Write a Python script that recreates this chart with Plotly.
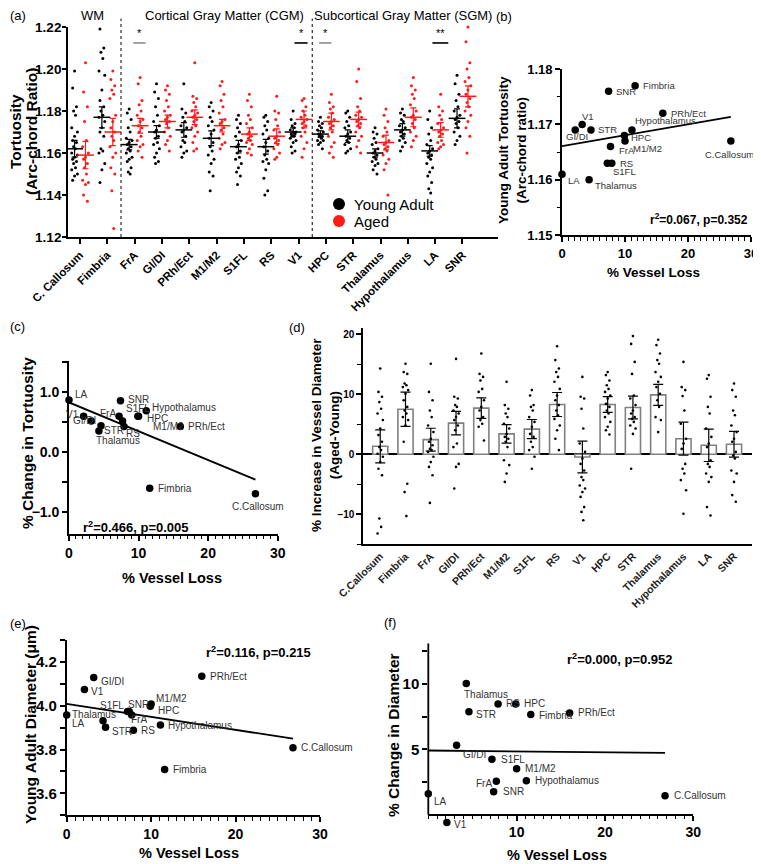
import numpy as np
import plotly.graph_objects as go

W, H = 761, 864
FONT = "Arial, Liberation Sans, sans-serif"
PAGE_OFFSET = 8  # default body margin of the html page, in px

# ---------------- DATA ----------------
regions = ["C.Callosum", "Fimbria", "FrA", "GI/DI", "PRh/Ect", "M1/M2", "S1FL", "RS",
           "V1", "HPC", "STR", "Thalamus", "Hypothalamus", "LA", "SNR"]
tick_labels_a = ["C. Callosum", "Fimbria", "FrA", "GI/DI", "PRh/Ect", "M1/M2", "S1FL", "RS",
                 "V1", "HPC", "STR", "Thalamus", "Hypothalamus", "LA", "SNR"]
group_titles = ["WM", "Cortical Gray Matter (CGM)", "Subcortical Gray Matter (SGM)"]
legend_names = ["Young Adult", "Aged"]

# (a) tortuosity per vessel, young vs aged
young_tort_dots = [
    [1.199, 1.191, 1.182, 1.180, 1.178, 1.172, 1.170, 1.168, 1.166, 1.165, 1.163, 1.162, 1.160, 1.159, 1.158, 1.157, 1.156, 1.155, 1.153, 1.152, 1.150, 1.149, 1.147],
    [1.221, 1.219, 1.210, 1.208, 1.205, 1.199, 1.197, 1.190, 1.185, 1.182, 1.180, 1.178, 1.177, 1.175, 1.172, 1.170, 1.168, 1.162, 1.161, 1.160, 1.155, 1.152, 1.146],
    [1.181, 1.179, 1.176, 1.172, 1.170, 1.167, 1.166, 1.165, 1.164, 1.163, 1.162, 1.161, 1.160, 1.158, 1.157, 1.156, 1.153, 1.151, 1.150],
    [1.193, 1.189, 1.186, 1.182, 1.178, 1.175, 1.173, 1.171, 1.170, 1.168, 1.167, 1.165, 1.164, 1.162, 1.160, 1.158, 1.156, 1.155],
    [1.193, 1.181, 1.179, 1.177, 1.175, 1.173, 1.172, 1.171, 1.170, 1.168, 1.166, 1.165, 1.163, 1.161, 1.160, 1.158],
    [1.184, 1.182, 1.180, 1.177, 1.175, 1.173, 1.171, 1.169, 1.167, 1.165, 1.163, 1.161, 1.159, 1.157, 1.155, 1.151, 1.149, 1.142],
    [1.178, 1.176, 1.174, 1.172, 1.170, 1.168, 1.166, 1.164, 1.163, 1.161, 1.160, 1.158, 1.157, 1.155, 1.153, 1.151, 1.149, 1.145],
    [1.178, 1.177, 1.175, 1.173, 1.171, 1.169, 1.167, 1.165, 1.163, 1.161, 1.159, 1.157, 1.156, 1.155, 1.152, 1.148, 1.142, 1.140],
    [1.180, 1.176, 1.174, 1.173, 1.172, 1.171, 1.170, 1.170, 1.169, 1.169, 1.168, 1.168, 1.167, 1.166, 1.165, 1.163, 1.161, 1.160],
    [1.177, 1.175, 1.174, 1.173, 1.172, 1.171, 1.170, 1.169, 1.169, 1.168, 1.168, 1.167, 1.166, 1.166, 1.165, 1.164, 1.162],
    [1.180, 1.179, 1.177, 1.175, 1.173, 1.172, 1.170, 1.169, 1.168, 1.167, 1.166, 1.165, 1.164, 1.162, 1.161, 1.160],
    [1.172, 1.170, 1.169, 1.167, 1.165, 1.164, 1.162, 1.161, 1.160, 1.159, 1.158, 1.157, 1.156, 1.155, 1.154, 1.152, 1.150],
    [1.181, 1.179, 1.178, 1.176, 1.175, 1.173, 1.172, 1.171, 1.170, 1.169, 1.168, 1.167, 1.166, 1.165, 1.163, 1.161],
    [1.180, 1.176, 1.172, 1.169, 1.166, 1.164, 1.162, 1.161, 1.160, 1.159, 1.158, 1.157, 1.155, 1.153, 1.151, 1.149, 1.146, 1.143, 1.141],
    [1.197, 1.193, 1.188, 1.185, 1.182, 1.180, 1.178, 1.177, 1.176, 1.175, 1.174, 1.172, 1.170, 1.168, 1.166, 1.164],
]
aged_tort_dots = [
    [1.203, 1.189, 1.182, 1.175, 1.166, 1.163, 1.160, 1.158, 1.157, 1.155, 1.153, 1.150, 1.147, 1.146, 1.145, 1.140, 1.137],
    [1.199, 1.195, 1.192, 1.190, 1.188, 1.186, 1.178, 1.175, 1.172, 1.170, 1.168, 1.166, 1.163, 1.160, 1.158, 1.153, 1.150, 1.142, 1.124],
    [1.196, 1.193, 1.185, 1.183, 1.180, 1.178, 1.176, 1.175, 1.173, 1.172, 1.170, 1.168, 1.166, 1.164, 1.163, 1.161, 1.158],
    [1.192, 1.190, 1.188, 1.185, 1.182, 1.180, 1.178, 1.177, 1.176, 1.175, 1.174, 1.172, 1.170, 1.168, 1.166, 1.164, 1.161],
    [1.203, 1.187, 1.186, 1.184, 1.182, 1.180, 1.179, 1.178, 1.177, 1.176, 1.175, 1.173, 1.172, 1.170, 1.168, 1.165, 1.162, 1.161],
    [1.194, 1.192, 1.188, 1.185, 1.182, 1.179, 1.176, 1.175, 1.174, 1.172, 1.171, 1.169, 1.167, 1.165, 1.164, 1.162],
    [1.188, 1.185, 1.182, 1.178, 1.176, 1.174, 1.172, 1.170, 1.169, 1.168, 1.167, 1.166, 1.165, 1.164, 1.162, 1.160, 1.159],
    [1.187, 1.180, 1.179, 1.176, 1.173, 1.171, 1.170, 1.168, 1.167, 1.166, 1.165, 1.164, 1.162, 1.160, 1.158, 1.157],
    [1.186, 1.185, 1.182, 1.180, 1.178, 1.177, 1.176, 1.175, 1.174, 1.173, 1.172, 1.170, 1.168, 1.165, 1.162, 1.158],
    [1.188, 1.184, 1.182, 1.181, 1.179, 1.177, 1.176, 1.175, 1.174, 1.173, 1.172, 1.170, 1.168, 1.165, 1.163, 1.160, 1.158],
    [1.200, 1.194, 1.186, 1.182, 1.180, 1.178, 1.177, 1.176, 1.175, 1.174, 1.173, 1.172, 1.170, 1.168, 1.166, 1.163, 1.160],
    [1.181, 1.178, 1.175, 1.172, 1.170, 1.168, 1.166, 1.165, 1.164, 1.163, 1.162, 1.161, 1.159, 1.157, 1.155, 1.152, 1.140],
    [1.196, 1.192, 1.190, 1.188, 1.186, 1.183, 1.180, 1.178, 1.177, 1.176, 1.174, 1.172, 1.170, 1.168, 1.166, 1.163],
    [1.188, 1.182, 1.180, 1.178, 1.176, 1.174, 1.172, 1.171, 1.170, 1.169, 1.168, 1.166, 1.165, 1.164, 1.163, 1.162],
    [1.220, 1.213, 1.203, 1.200, 1.196, 1.194, 1.192, 1.190, 1.188, 1.186, 1.184, 1.182, 1.180, 1.178, 1.175, 1.172, 1.168, 1.160],
]
young_tort_mean = [1.162, 1.177, 1.164, 1.170, 1.171, 1.167, 1.163, 1.163, 1.170, 1.169, 1.168, 1.160, 1.171, 1.161, 1.1765]
young_tort_err = [0.004, 0.005, 0.0025, 0.003, 0.0035, 0.0035, 0.003, 0.0035, 0.002, 0.0015, 0.003, 0.002, 0.003, 0.0025, 0.0045]
aged_tort_mean = [1.159, 1.170, 1.173, 1.175, 1.177, 1.173, 1.169, 1.168, 1.176, 1.175, 1.176, 1.165, 1.177, 1.171, 1.187]
aged_tort_err = [0.0065, 0.0065, 0.0035, 0.003, 0.0035, 0.003, 0.003, 0.0035, 0.004, 0.004, 0.0035, 0.0035, 0.0045, 0.0035, 0.005]
sig_regions = ["FrA", "V1", "HPC", "LA"]
sig_marks = ["*", "*", "*", "**"]

# shared x: % vessel loss per region
vessel_loss = [26.8, 11.6, 7.7, 3.2, 16.0, 10.0, 7.2, 7.9, 2.1, 9.9, 4.6, 4.3, 11.1, 0.0, 7.4]
# (b) young adult tortuosity
young_tortuosity = [1.167, 1.177, 1.166, 1.170, 1.172, 1.167, 1.163, 1.163, 1.169, 1.168, 1.169, 1.160, 1.169, 1.161, 1.176]
# (c) % change in tortuosity
change_tortuosity = [-0.69, -0.60, 0.52, 0.52, 0.43, 0.60, 0.60, 0.43, 0.60, 0.60, 0.44, 0.355, 0.69, 0.87, 0.86]
# (d) % increase in vessel diameter
diam_inc_mean = [1.33, 7.5, 2.44, 5.2, 7.7, 3.4, 4.2, 8.3, -0.44, 8.3, 7.8, 9.9, 2.6, 1.5, 1.67]
diam_inc_err = [2.75, 2.85, 1.9, 1.95, 1.7, 1.55, 1.6, 2.0, 2.65, 1.3, 1.9, 1.75, 2.75, 2.7, 2.15]
diam_inc_dots = [
    [14.3, 10.4, 9.6, 8.7, 7.6, 6.8, 5.7, 4.3, 3.2, 2.1, 1.2, 0.7, 0.1, -0.4, -1.3, -2.4, -3.5, -10.7, -12.1, -13.2],
    [15.1, 13.7, 13.4, 11.8, 11.5, 11.2, 10.7, 10.1, 9.0, 7.9, 7.3, 6.8, 6.2, 5.7, 4.8, 2.1, -4.9, -6.3, -10.3],
    [15.1, 10.4, 9.0, 7.3, 6.2, 4.8, 3.7, 2.6, 2.1, 1.5, 0.9, 0.7, 0.4, -0.4, -1.3, -2.1, -3.5, -8.1],
    [15.9, 9.6, 9.3, 8.2, 7.9, 7.3, 6.8, 6.2, 5.7, 4.8, 4.0, 1.8, 1.2, -1.6, -2.1, -5.7],
    [16.8, 13.4, 12.9, 12.3, 10.9, 10.4, 9.0, 7.9, 7.3, 6.2, 5.7, 5.1, 4.6, 2.3],
    [12.1, 8.2, 7.6, 6.8, 6.2, 5.1, 4.3, 3.4, 2.9, 2.6, 2.1, 1.2, -1.0, -1.8, -3.2, -4.6],
    [10.7, 9.8, 8.2, 7.9, 7.3, 6.2, 5.4, 4.6, 3.4, 2.9, 2.1, 1.2, 0.7, -0.4, -2.4],
    [18.0, 15.7, 14.3, 13.7, 12.9, 12.1, 10.9, 9.8, 9.0, 8.2, 7.3, 6.5, 5.9, 4.8, 4.0, 2.6, 0.7],
    [12.9, 9.6, 9.3, 7.6, 4.3, 1.8, 0.4, -0.7, -1.6, -2.7, -3.8, -4.3, -5.2, -5.7, -6.3, -7.1, -8.8, -9.6, -11.0],
    [13.7, 13.2, 12.3, 11.5, 10.9, 10.4, 9.8, 9.3, 8.4, 7.9, 7.3, 6.8, 6.2, 5.4, 4.6, 4.0, 3.3],
    [19.7, 18.4, 15.4, 13.4, 9.8, 9.3, 8.2, 7.3, 6.8, 6.2, 5.9, 5.4, 4.8, 4.3, 3.4, -2.4],
    [19.1, 18.2, 16.8, 15.7, 15.1, 13.7, 12.9, 12.1, 11.2, 10.1, 9.0, 7.9, 6.2, 5.7, 3.7],
    [15.4, 11.2, 10.7, 9.7, 7.3, 5.1, 2.6, 1.8, 0.9, -1.6, -2.4, -3.2, -4.3, -6.0, -9.9],
    [13.2, 12.6, 9.6, 7.9, 6.8, 4.3, 2.9, 1.8, 1.2, -1.0, -1.6, -2.1, -3.2, -3.8, -4.6, -8.8, -10.2],
    [11.8, 10.7, 9.6, 7.3, 6.5, 4.8, 3.7, 2.6, 2.1, 0.4, -0.2, -0.7, -2.7, -3.2, -4.6, -6.8, -7.9],
]
diam_sig = ["", "***", "", "**", "***", "", "*", "***", "", "****", "****", "****", "", "", ""]
# (e) young adult diameter (um)
young_diameter = [3.808, 3.709, 3.958, 4.129, 4.135, 4.008, 3.974, 3.888, 4.074, 3.998, 3.902, 3.932, 3.912, 3.958, 3.974]
# (f) % change in diameter
change_diameter = [1.45, 7.65, 2.55, 5.31, 7.78, 3.52, 4.23, 8.47, -0.59, 8.47, 7.86, 10.03, 2.6, 1.61, 1.76]
stats_text = {"b": "r<sup>2</sup>=0.067, p=0.352", "c": "r<sup>2</sup>=0.466, p=0.005",
              "e": "r<sup>2</sup>=0.116, p=0.215", "f": "r<sup>2</sup>=0.000, p=0.952"}

# ---------------- helpers ----------------
def px(x):
    return (x - PAGE_OFFSET) / W


def py(y):
    return 1 - (y - PAGE_OFFSET) / H


def jitter(n, spread):
    pattern = [0, -1, 1, -0.5, 0.5, -1.5, 1.5]
    return [pattern[k % len(pattern)] * spread for k in range(n)]


def axis(domain, anchor, **kw):
    d = dict(domain=domain, anchor=anchor, showline=True, linecolor="black", linewidth=1.8,
             ticks="outside", ticklen=5, tickwidth=1.5, tickcolor="black", showgrid=False,
             zeroline=False, automargin=False,
             tickfont=dict(family=FONT, size=13, color="black", weight=700))
    d.update(kw)
    return d


fig = go.Figure()
annotations = []
shapes = []


def ptext(x, y, text, size, angle=0, bold=True, anchor="center", color="black"):
    annotations.append(dict(x=px(x), y=py(y), xref="paper", yref="paper", text=text, showarrow=False,
                            textangle=angle, xanchor=anchor, yanchor="middle",
                            font=dict(family=FONT, size=size, color=color, weight=700 if bold else 400)))


# ---------------- (a) ----------------
xs_y, ys_y, xs_a, ys_a = [], [], [], []
for i in range(len(regions)):
    jy = jitter(len(young_tort_dots[i]), 0.07)
    ja = jitter(len(aged_tort_dots[i]), 0.07)
    xs_y += [i - 0.2 + j for j in jy]
    ys_y += young_tort_dots[i]
    xs_a += [i + 0.2 + j for j in ja]
    ys_a += aged_tort_dots[i]
RED = "#ff1a1a"
fig.add_trace(go.Scatter(x=xs_y, y=ys_y, mode="markers", marker=dict(size=3, color="black"),
                         xaxis="x", yaxis="y", showlegend=False, cliponaxis=False))
fig.add_trace(go.Scatter(x=xs_a, y=ys_a, mode="markers", marker=dict(size=3, color=RED),
                         xaxis="x", yaxis="y", showlegend=False, cliponaxis=False))
idx = list(range(len(regions)))
fig.add_trace(go.Scatter(x=[i - 0.2 for i in idx], y=young_tort_mean, mode="markers",
                         marker=dict(symbol="line-ew-open", size=12, color="black",
                                     line=dict(color="black", width=1.5)),
                         error_y=dict(type="data", array=young_tort_err, color="black", thickness=1.2, width=3),
                         xaxis="x", yaxis="y", showlegend=False))
fig.add_trace(go.Scatter(x=[i + 0.2 for i in idx], y=aged_tort_mean, mode="markers",
                         marker=dict(symbol="line-ew-open", size=12, color=RED,
                                     line=dict(color=RED, width=1.5)),
                         error_y=dict(type="data", array=aged_tort_err, color=RED, thickness=1.2, width=3),
                         xaxis="x", yaxis="y", showlegend=False))

# legend drawn as symbols + text
for name, col, cy in zip(legend_names, ["black", RED], [204, 221]):
    shapes.append(dict(type="circle", xref="paper", yref="paper", x0=px(333), x1=px(345),
                       y0=py(cy + 6), y1=py(cy - 6), fillcolor=col, line=dict(width=0)))
    ptext(352, cy, name, 15, bold=False, anchor="left")

for xb in [1.5, 8.5]:
    shapes.append(dict(type="line", xref="x", yref="y domain", x0=xb, x1=xb, y0=0, y1=1.04,
                       line=dict(color="black", width=1, dash="dot")))
sig_span = {"FrA": (-0.05, 0.4, "#8c8c8c"), "V1": (-0.15, 0.33, "black"),
            "HPC": (-0.25, 0.2, "#8c8c8c"), "LA": (-0.1, 0.48, "black")}
for r, m in zip(sig_regions, sig_marks):
    i = regions.index(r)
    a0, a1, col = sig_span[r]
    shapes.append(dict(type="line", xref="x", yref="y", x0=i + a0, x1=i + a1, y0=1.2124, y1=1.2124,
                       line=dict(color=col, width=1.6)))
    annotations.append(dict(x=i + (a0 + a1) / 2, y=1.2124, xref="x", yref="y", text=m, showarrow=False,
                            xanchor="center", yanchor="bottom", yshift=2,
                            font=dict(family=FONT, size=11, color="black")))
for t, cx in zip(group_titles, [92, 224, 403]):
    ptext(cx, 15, t, 13, bold=False, anchor="center")

# ---------------- scatter panels b, c, e, f ----------------
def scatter_panel(xa, ya, yvals, offsets, label_size):
    fig.add_trace(go.Scatter(x=vessel_loss, y=yvals, mode="markers", marker=dict(size=7.5, color="black"),
                             xaxis=xa, yaxis=ya, showlegend=False, cliponaxis=False))
    slope, inter = np.polyfit(vessel_loss, yvals, 1)
    xl = [0, max(vessel_loss)]
    fig.add_trace(go.Scatter(x=xl, y=[inter + slope * v for v in xl], mode="lines",
                             line=dict(color="black", width=1.8), xaxis=xa, yaxis=ya,
                             showlegend=False, cliponaxis=False))
    for r, xv, yv, (dx, dy, anc) in zip(regions, vessel_loss, yvals, offsets):
        annotations.append(dict(x=xv, y=yv, xref=xa, yref=ya, text=r, showarrow=False,
                                xanchor=anc, yanchor="middle", xshift=dx, yshift=-dy,
                                font=dict(family=FONT, size=label_size, color="#333333")))


# label offsets (dx, dy px, anchor) in region order
off_b = [(-28, 13, "left"), (6, 0, "left"), (6.5, 4, "left"), (-18, 12, "left"), (6, 0, "left"),
         (5.5, 7, "left"), (4, 8.5, "left"), (6, 0, "left"), (4.5, -13, "left"), (4.5, 2, "left"),
         (5.5, 0, "left"), (4, 6, "left"), (1, -9, "left"), (3.5, 6.5, "left"), (5, 0, "left")]
off_c = [(2.5, 13, "center"), (6.5, 0, "left"), (-4.3, -7.5, "right"), (6.4, -1, "right"), (6, 0, "left"),
         (12, 10, "left"), (5, -8, "left"), (0, 6.6, "left"), (-3, -1.4, "right"), (7, 2, "left"),
         (1.3, 4.6, "left"), (-5, 9.6, "left"), (3.5, -3, "left"), (4, -6, "left"), (6, -1.4, "left")]
off_e = [(6, 0, "left"), (6, 0, "left"), (-2.7, 5, "left"), (5.3, 4, "left"), (6, 0, "left"),
         (3, -5, "left"), (-1.5, -6.4, "right"), (5.6, 0, "left"), (4.6, 1.5, "left"), (5.4, 4, "left"),
         (4, 4.5, "left"), (-33, -6.6, "left"), (6, 0, "left"), (3.3, 8.4, "left"), (-3.5, -7.4, "left")]
off_f = [(7, 0, "left"), (6.5, 0.6, "left"), (-2.6, 2, "right"), (4, 9.4, "left"), (6.7, 0, "left"),
         (6.4, 0, "left"), (7, 0, "left"), (6, 0, "left"), (5.4, 2, "left"), (6.5, 0, "left"),
         (5, 3, "left"), (-4.6, 10.7, "left"), (6.7, 0, "left"), (3.4, 8.3, "left"), (7, 0, "left")]

scatter_panel("x2", "y2", young_tortuosity, off_b, 9.5)
scatter_panel("x3", "y3", change_tortuosity, off_c, 10)
scatter_panel("x5", "y5", young_diameter, off_e, 10)
scatter_panel("x6", "y6", change_diameter, off_f, 10)

# ---------------- (d) ----------------
fig.add_trace(go.Bar(x=idx, y=diam_inc_mean, width=0.6, xaxis="x4", yaxis="y4", showlegend=False,
                     marker=dict(color="white", line=dict(color="#808080", width=1.6)),
                     error_y=dict(type="data", array=diam_inc_err, color="black", thickness=1.2, width=5)))
dx_d, dy_d = [], []
for i in idx:
    j = jitter(len(diam_inc_dots[i]), 0.07)
    dx_d += [i + v for v in j]
    dy_d += diam_inc_dots[i]
fig.add_trace(go.Scatter(x=dx_d, y=dy_d, mode="markers", marker=dict(size=2.6, color="black"),
                         xaxis="x4", yaxis="y4", showlegend=False))
for i, s in enumerate(diam_sig):
    if s:
        annotations.append(dict(x=i, y=21.2, xref="x4", yref="y4", text=s, showarrow=False,
                                xanchor="center", font=dict(family=FONT, size=9, color="#555555")))

# ---------------- axes ----------------
lay = dict(width=W, height=H, margin=dict(l=0, r=0, t=0, b=0), autosize=False, showlegend=False,
           paper_bgcolor="white", plot_bgcolor="white", font=dict(family=FONT, color="black"))

lay["xaxis"] = axis([px(68), px(498)], "y", range=[-0.44, 15.3], tickvals=idx, ticktext=tick_labels_a,
                    tickangle=-45, tickfont=dict(family=FONT, size=11.5, color="black", weight=700))
lay["yaxis"] = axis([py(237), py(27)], "x", range=[1.12, 1.22], dtick=0.02, tickformat=".2f",
                    ticklen=4, ticklabelstandoff=-2,
                    tickfont=dict(family=FONT, size=13.5, color="black", weight=700))

minor_x = dict(ticks="outside", ticklen=3.5, tickwidth=1.2, tickcolor="black", dtick=1)
lay["xaxis2"] = axis([px(562), px(751)], "y2", range=[0, 30], dtick=10, minor=minor_x)
lay["yaxis2"] = axis([py(235.3), py(69)], "x2", range=[1.15, 1.18], dtick=0.01, tickformat=".2f",
                     minor=dict(ticks="outside", ticklen=3.5, tickwidth=1.2, tickcolor="black", dtick=0.005))

lay["xaxis3"] = axis([px(69), px(277.7)], "y3", range=[0, 30], dtick=10, minor=minor_x,
                     tickfont=dict(family=FONT, size=14, color="black", weight=700))
lay["yaxis3"] = axis([py(534), py(361)], "x3", range=[-1.36, 1.52], tickvals=[-1, 0, 1], tickformat=".1f",
                     minor=dict(ticks="outside", ticklen=5, tickwidth=1.5, tickcolor="black",
                                tickvals=[-0.5, 0.5, 1.5]),
                     tickfont=dict(family=FONT, size=14, color="black", weight=700))

lay["xaxis4"] = axis([px(363.3), px(751.7)], "y4", range=[-0.67, 14.7], tickvals=idx, ticktext=regions,
                     tickangle=-45, ticks="", tickfont=dict(family=FONT, size=10.5, color="#222222", weight=700))
lay["yaxis4"] = axis([py(544.3), py(328.3)], "x4", range=[-15, 21], tickvals=[-10, 0, 10, 20],
                     zeroline=True, zerolinecolor="black", zerolinewidth=1.8,
                     minor=dict(ticks="outside", ticklen=4, tickwidth=1.2, tickcolor="black",
                                tickvals=[-15, -5, 5, 15]),
                     tickfont=dict(family=FONT, size=10, color="black", weight=700))

lay["xaxis5"] = axis([px(66.7), px(320)], "y5", range=[0, 30], dtick=10, minor=minor_x,
                     tickfont=dict(family=FONT, size=14, color="black", weight=700))
lay["yaxis5"] = axis([py(815.3), py(640)], "x5", range=[3.5, 4.3], tickvals=[3.6, 3.8, 4.0, 4.2],
                     tickformat=".1f",
                     minor=dict(ticks="outside", ticklen=5, tickwidth=1.5, tickcolor="black",
                                tickvals=[3.5, 3.7, 3.9, 4.1, 4.3]),
                     tickfont=dict(family=FONT, size=15, color="black", weight=700))

# (f): y range reaches below 0 so the V1 point shows; x axis is drawn at y = 0
F_YMIN, F_YMAX = -1.2, 13.1
F_PX_PER_UNIT = (814.7 - 643.3) / 13.1
lay["xaxis6"] = axis([px(428.3), px(693.3)], "free", range=[0, 30], tickvals=[10, 20, 30], minor=minor_x,
                     position=py(814.7),
                     tickfont=dict(family=FONT, size=14, color="black", weight=700))
lay["yaxis6"] = axis([py(814.7 - F_YMIN * F_PX_PER_UNIT), py(643.3)], "x6", range=[F_YMIN, F_YMAX],
                     tickvals=[5, 10], showline=False,
                     minor=dict(ticks="outside", ticklen=5, tickwidth=1.5, tickcolor="black",
                                tickvals=[2.5, 7.5, 12.5]),
                     tickfont=dict(family=FONT, size=15, color="black", weight=700))
shapes.append(dict(type="line", xref="x6 domain", yref="y6", x0=0, x1=0, y0=0, y1=F_YMAX,
                   line=dict(color="black", width=1.8)))

# ---------------- titles / labels ----------------
ptext(16, 132, "Tortuosity", 15.5, -90)
ptext(32, 132, "(Arc-chord Ratio)", 15.5, -90)
ptext(512, 150, "Young Adult Tortuosity<br>(Arc-chord ratio)", 13.5, -90)
ptext(27, 443, "% Change in Tortuosity", 15.5, -90)
ptext(325, 435, "% Increase in Vessel Diameter<br>(Aged-Young)", 13.5, -90)
ptext(30, 725, "Young Adult Diameter (μm)", 15.5, -90)
ptext(393, 735, "% Change in Diameter", 15.5, -90)

ptext(653, 272, "% Vessel Loss", 13.5)
ptext(172, 578, "% Vessel Loss", 14.5)
ptext(189, 853, "% Vessel Loss", 14.5)
ptext(557, 855, "% Vessel Loss", 14.5)

ptext(750, 219, stats_text["b"], 12, anchor="right")
ptext(81, 527, stats_text["c"], 13, anchor="left")
ptext(204, 652, stats_text["e"], 13, anchor="left")
ptext(565, 659, stats_text["f"], 13, anchor="left")

for lab, x, y in [("(a)", 8, 15), ("(b)", 494, 16), ("(c)", 8, 326), ("(d)", 287, 327),
                  ("(e)", 8, 623), ("(f)", 382, 622)]:
    ptext(x, y, lab, 13, bold=False, anchor="left")

lay["annotations"] = annotations
lay["shapes"] = shapes
fig.update_layout(**lay)

fig.write_html("out.html")
